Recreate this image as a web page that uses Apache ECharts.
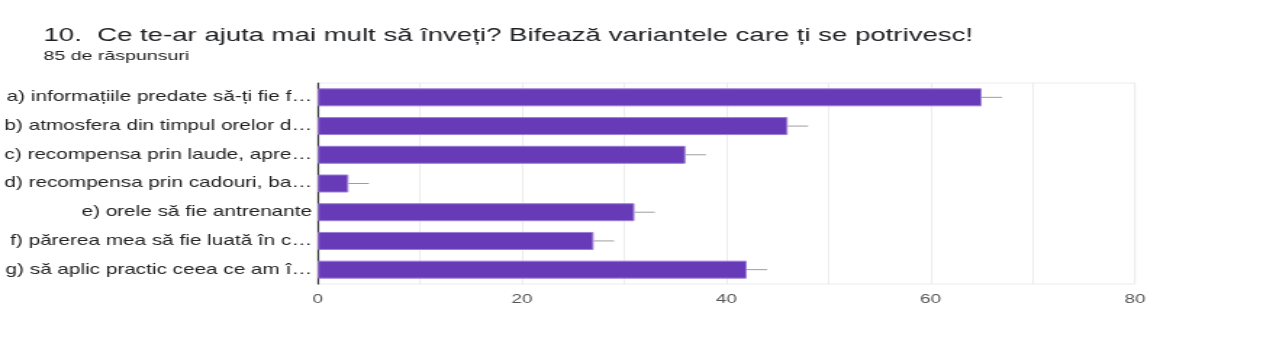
<!DOCTYPE html>
<html>
<head>
<meta charset="utf-8">
<script src="https://cdn.jsdelivr.net/npm/echarts@6/dist/echarts.min.js"></script>
<style>
  html, body { margin: 0; padding: 0; background: #fff; overflow: hidden; }
  /* The summary card is drawn narrow and widened horizontally, giving the
     broad letterforms of the form-results view. */
  #wrap { width: 1263px; height: 345px; overflow: hidden; }
  #chart { width: 871px; height: 345px; transform: scaleX(1.45); transform-origin: 0 0; }
</style>
</head>
<body>
<div id="wrap"><div id="chart"></div></div>
<script>
// Answer options (shown truncated, as in the form summary)
const categories = [
  'a) informațiile predate să-ți fie f…',
  'b) atmosfera din timpul orelor d…',
  'c) recompensa prin laude, apre…',
  'd) recompensa prin cadouri, ba…',
  'e) orele să fie antrenante',
  'f) părerea mea să fie luată în c…',
  'g) să aplic practic ceea ce am î…'
];
// Number of respondents who ticked each option
const counts = [65, 46, 36, 3, 31, 27, 42];
// Length of the thin whisker drawn past each bar end
const whiskers = [2, 2, 2, 2, 2, 2, 2];
const xTicks = [0, 20, 40, 60, 80];

const font = 'Liberation Sans, Arial, sans-serif';
const chart = echarts.init(document.getElementById('chart'));

chart.setOption({
  animation: false,
  title: [
    {
      text: '10.  Ce te-ar ajuta mai mult să înveți? Bifează variantele care ți se potrivesc!',
      left: 25, top: 21, padding: 5,
      textStyle: { fontFamily: font, fontSize: 19, fontWeight: 'normal', color: '#202124' }
    },
    {
      text: '85 de răspunsuri',
      left: 25, top: 44, padding: 5,
      textStyle: { fontFamily: font, fontSize: 13.5, fontWeight: 'normal', color: '#202124' }
    }
  ],
  grid: {
    left: 218.6, right: 88.3, top: 83, bottom: 61,
    show: true, borderColor: '#ececec', borderWidth: 1
  },
  xAxis: {
    type: 'value',
    min: xTicks[0], max: xTicks[xTicks.length - 1], interval: 20,
    axisLine: { show: false },
    axisTick: { show: false },
    splitLine: { show: true, lineStyle: { color: '#ececec', width: 1 } },
    minorTick: { show: false, splitNumber: 2 },
    minorSplitLine: { show: true, lineStyle: { color: '#ececec', width: 1 } },
    axisLabel: { fontFamily: font, fontSize: 13, color: '#555', margin: 9 }
  },
  yAxis: {
    type: 'category',
    data: categories,
    inverse: true,
    axisLine: { show: true, lineStyle: { color: '#333', width: 1.2 } },
    axisTick: { show: false },
    axisLabel: { fontFamily: font, fontSize: 14.3, color: '#222', margin: 4 }
  },
  series: [
    {
      type: 'bar',
      data: counts,
      barWidth: 18,
      itemStyle: { color: '#673ab7', borderColor: '#9d7fd6', borderWidth: 1 },
      z: 2
    },
    {
      type: 'custom',
      data: counts.map((v, i) => [i, v, whiskers[i]]),
      renderItem: function (params, api) {
        const i = api.value(0);
        const v = api.value(1);
        const w = api.value(2);
        const p0 = api.coord([v, i]);
        const p1 = api.coord([v + w, i]);
        return {
          type: 'line',
          shape: { x1: p0[0], y1: p0[1], x2: p1[0], y2: p1[1] },
          style: { stroke: '#9e9e9e', lineWidth: 1 }
        };
      },
      encode: { x: 1, y: 0 },
      z: 3
    }
  ]
});
</script>
</body>
</html>
